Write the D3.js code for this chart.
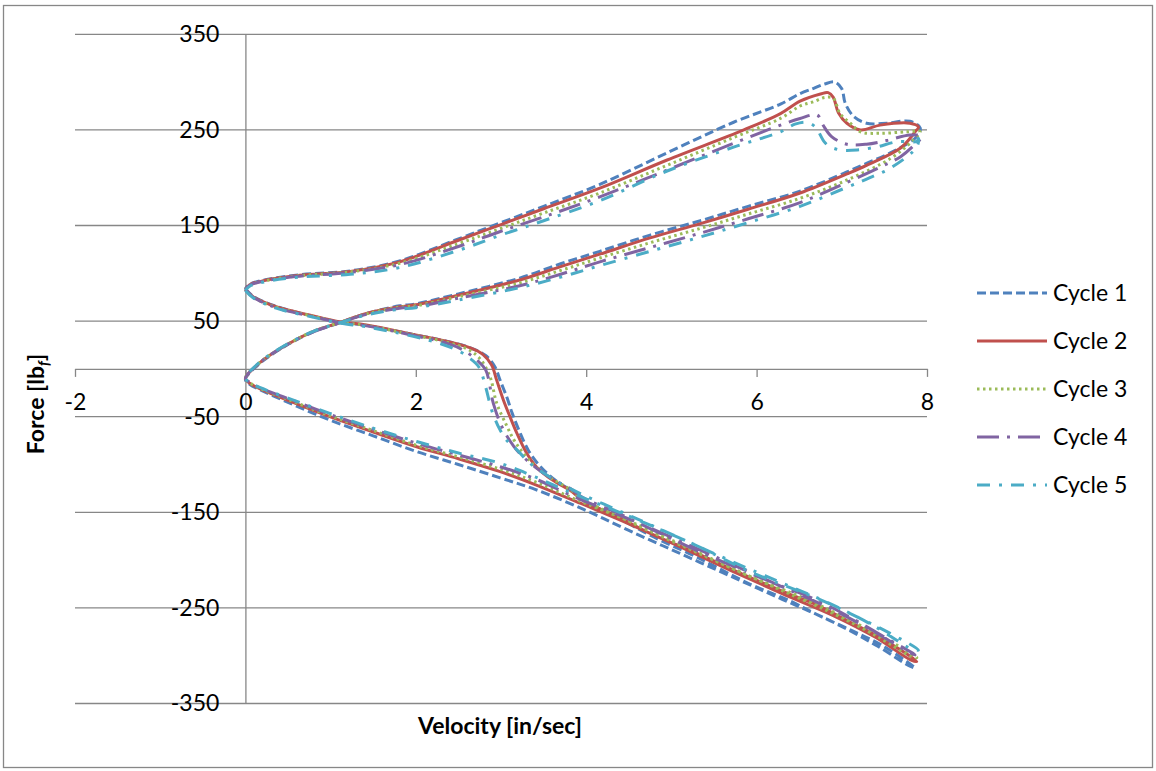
<!DOCTYPE html>
<html>
<head>
<meta charset="utf-8">
<script src="https://cdn.jsdelivr.net/npm/d3@7"></script>
<style>
  body { margin: 0; background: #fff; }
  svg { display: block; }
  text { font-family: Lato, "Open Sans", sans-serif; fill: #000; }
</style>
</head>
<body>
<div id="chart"></div>
<script>
const seriesNames = ['Cycle 1', 'Cycle 2', 'Cycle 3', 'Cycle 4', 'Cycle 5'];
const xTicks = [-2, 0, 2, 4, 6, 8];
const yTicks = [-350, -250, -150, -50, 50, 150, 250, 350];

// [velocity in/sec, force lbf], in the order the loop is traced
const cycle1 = [
  [0.00, 84], [0.09, 76], [0.36, 65.5], [0.75, 56], [1.10, 49], [1.42, 45.5], [1.97, 36], [2.36, 29],
  [2.64, 22], [2.82, 14], [2.93, 2], [2.99, -12], [3.07, -30], [3.13, -46], [3.21, -64], [3.32, -85],
  [3.45, -101], [3.63, -116], [3.84, -128], [4.00, -139], [4.40, -157], [4.75, -174], [5.30, -197],
  [5.92, -225], [6.40, -243], [6.71, -257], [7.10, -273], [7.49, -290], [7.86, -313],
  [7.80, -311], [7.40, -289], [6.90, -265], [6.30, -241], [5.70, -217], [5.10, -193], [4.50, -169],
  [3.97, -147], [3.40, -126], [2.99, -114], [2.50, -100], [2.01, -86.5], [1.50, -70], [0.99, -53.5],
  [0.50, -35], [0.20, -23], [0.05, -16], [0.00, -11],
  [0.16, 5], [0.48, 24.5], [0.79, 38.5], [1.10, 48], [1.42, 58], [1.81, 66], [2.00, 68], [2.50, 78.5],
  [3.22, 95], [3.70, 110], [4.16, 123], [4.75, 140], [5.34, 155], [5.90, 170], [6.51, 186], [7.06, 206],
  [7.29, 215], [7.57, 226], [7.88, 243], [7.92, 252],
  [7.80, 259], [7.53, 257], [7.29, 257], [7.14, 264], [7.04, 278], [7.00, 293], [6.92, 300], [6.80, 298],
  [6.67, 293.5], [6.51, 288], [6.28, 277], [5.73, 258], [4.95, 226], [4.16, 193], [3.50, 170], [3.00, 153],
  [2.50, 136], [1.81, 113], [1.23, 102.5], [0.64, 98.5], [0.25, 93.5], [0.05, 88.5], [0.00, 84]
];

const cycle2 = [
  [0.00, 83], [0.09, 75.5], [0.36, 65], [0.75, 56.4], [1.10, 49.4], [1.42, 46], [1.97, 36], [2.36, 29],
  [2.64, 22], [2.79, 15], [2.89, 4], [2.95, -12], [3.03, -33], [3.11, -51], [3.19, -68], [3.30, -88],
  [3.42, -103], [3.60, -116], [3.81, -127], [3.97, -138], [4.40, -156], [4.75, -172], [5.30, -193],
  [5.92, -218], [6.40, -236], [6.71, -247], [7.10, -265], [7.49, -283], [7.88, -306],
  [7.82, -305], [7.40, -281], [6.90, -258], [6.30, -235], [5.70, -211], [5.10, -186], [4.50, -162],
  [3.89, -139], [3.40, -121], [2.99, -107.5], [2.50, -94], [2.01, -81.4], [1.50, -66], [0.99, -50],
  [0.50, -33], [0.20, -22], [0.05, -15], [0.00, -10],
  [0.16, 5.9], [0.48, 25], [0.79, 39], [1.10, 48.3], [1.42, 58], [1.81, 65], [2.00, 67], [2.50, 77],
  [3.22, 93], [3.70, 107], [4.16, 120], [4.75, 137], [5.34, 152], [5.90, 167], [6.51, 184], [7.06, 204],
  [7.29, 213], [7.69, 231], [7.86, 248], [7.90, 253],
  [7.80, 257], [7.45, 255], [7.22, 250], [7.06, 257], [6.96, 268], [6.90, 284], [6.84, 289], [6.75, 287.6],
  [6.51, 280], [6.28, 267], [5.85, 250], [4.95, 218.5], [4.16, 189], [3.50, 167.5], [3.00, 151],
  [2.50, 134.6], [1.81, 112], [1.23, 102], [0.64, 98], [0.25, 93], [0.05, 88], [0.00, 83]
];

const cycle3 = [
  [0.00, 83], [0.09, 75], [0.36, 64.5], [0.75, 56], [1.10, 49], [1.42, 45.5], [1.97, 35.5], [2.36, 28],
  [2.60, 21], [2.75, 11], [2.87, -8], [2.95, -36], [3.07, -60], [3.15, -74], [3.26, -88], [3.40, -102],
  [3.58, -114], [3.81, -126], [3.97, -137], [4.40, -155], [4.75, -170], [5.30, -192], [5.92, -217],
  [6.40, -234], [6.71, -246], [7.10, -263], [7.49, -281], [7.88, -302],
  [7.82, -301], [7.40, -279], [6.90, -256], [6.30, -232], [5.70, -208], [5.10, -183], [4.50, -159],
  [3.89, -137], [3.40, -118], [2.99, -105], [2.50, -92], [2.01, -80], [1.50, -64.5], [0.99, -49],
  [0.50, -32], [0.20, -21.5], [0.05, -14.5], [0.00, -10],
  [0.16, 6], [0.48, 25], [0.79, 39], [1.10, 48.3], [1.42, 57.5], [1.81, 64.5], [2.00, 66], [2.50, 75.5],
  [3.22, 90], [3.70, 103], [4.16, 116], [4.75, 132], [5.34, 147], [5.90, 162], [6.51, 178.5], [7.06, 197.6],
  [7.57, 220], [7.84, 239.4], [7.92, 248],
  [7.76, 248], [7.45, 246.4], [7.22, 248], [7.10, 257], [6.98, 267], [6.90, 283], [6.80, 284], [6.67, 279.5],
  [6.51, 275], [6.28, 262], [5.73, 242], [4.95, 213], [4.16, 184], [3.50, 163], [3.00, 147], [2.50, 131],
  [1.81, 110.5], [1.23, 101.5], [0.64, 97.5], [0.25, 92.5], [0.05, 87.5], [0.00, 83]
];

const cycle4 = [
  [0.00, 83], [0.09, 75], [0.36, 64], [0.75, 55.5], [1.10, 48.5], [1.42, 45], [1.97, 35], [2.36, 27],
  [2.55, 20], [2.72, 9], [2.82, -1], [2.91, -36], [3.01, -60.5], [3.15, -81], [3.26, -92], [3.42, -104],
  [3.60, -115], [3.81, -125], [3.97, -135], [4.40, -152], [4.75, -167], [5.30, -190], [6.12, -221],
  [6.71, -242], [7.10, -260], [7.49, -280], [7.86, -299],
  [7.80, -297], [7.40, -276], [6.90, -252], [6.30, -228], [5.70, -204], [5.10, -180], [4.50, -157],
  [3.89, -135], [3.40, -115], [2.99, -102.3], [2.50, -90], [2.01, -77.8], [1.50, -63], [0.99, -47.5],
  [0.50, -31], [0.20, -21], [0.05, -14], [0.00, -10],
  [0.16, 6], [0.48, 25], [0.79, 38.5], [1.10, 48], [1.42, 57], [1.81, 63.5], [2.00, 65], [2.50, 74],
  [3.22, 87], [3.70, 99], [4.16, 112], [4.75, 127], [5.34, 142], [5.90, 157], [6.51, 174], [7.06, 195],
  [7.45, 211], [7.69, 222], [7.86, 235], [7.94, 243],
  [7.80, 244.7], [7.53, 239], [7.29, 235], [7.06, 235], [6.88, 243], [6.78, 255], [6.71, 265.6],
  [6.51, 262], [6.28, 255], [5.73, 236], [4.95, 208], [4.16, 180], [3.50, 159], [3.00, 144], [2.50, 128],
  [1.81, 109], [1.23, 101], [0.64, 97], [0.25, 92.5], [0.05, 87.5], [0.00, 83]
];

const cycle5 = [
  [0.00, 82], [0.09, 74.5], [0.36, 63.5], [0.75, 55], [1.10, 48], [1.42, 44], [1.97, 34], [2.30, 26],
  [2.52, 18], [2.62, 12], [2.74, 2], [2.82, -19], [2.89, -43], [2.99, -64], [3.08, -76], [3.19, -85],
  [3.34, -98.7], [3.50, -109], [3.70, -120], [3.97, -132], [4.40, -149], [4.75, -163], [5.30, -185],
  [5.92, -212], [6.71, -240], [7.10, -256], [7.49, -273], [7.90, -294],
  [7.82, -293], [7.40, -270], [6.90, -247], [6.30, -224], [5.70, -201], [5.10, -177], [4.50, -154],
  [3.89, -132], [3.40, -113], [2.99, -98.7], [2.50, -88], [2.01, -76], [1.50, -62], [0.99, -46.5],
  [0.50, -30.5], [0.20, -20.5], [0.05, -14], [0.00, -10],
  [0.16, 6.5], [0.48, 25.5], [0.79, 39], [1.10, 48], [1.42, 56.5], [1.81, 62.5], [2.00, 64], [2.50, 72],
  [3.22, 85], [3.70, 96], [4.16, 108], [4.75, 123], [5.34, 138], [5.90, 153], [6.51, 170], [7.06, 190],
  [7.33, 200], [7.57, 210], [7.88, 232], [7.90, 241],
  [7.88, 238], [7.65, 237.6], [7.40, 232], [7.18, 229], [6.98, 229], [6.85, 233], [6.79, 238], [6.69, 253],
  [6.59, 258], [6.45, 256], [6.28, 248], [5.73, 232], [4.95, 207], [4.16, 176], [3.50, 155], [3.00, 140],
  [2.50, 124], [1.81, 106], [1.23, 99], [0.64, 96], [0.25, 91.5], [0.05, 86.5], [0.00, 82]
];

const cycles = [cycle1, cycle2, cycle3, cycle4, cycle5];

// styles
const colors = ['#4F81BD', '#C0504D', '#9BBB59', '#8064A2', '#4BACC6'];
const dashes = ['9,4', null, '2.5,3.5', '22,8,3,8', '13,9,3,9'];
const gridColor = '#878787';

const width = 1156, height = 771;

const x = d3.scaleLinear().domain([-2, 8]).range([75, 927]);
const y = d3.scaleLinear().domain([-350, 350]).range([703.5, 34.3]);

const svg = d3.select('#chart')
  .append('svg')
  .attr('width', width)
  .attr('height', height);

svg.append('rect')
  .attr('x', 3.5).attr('y', 5.5)
  .attr('width', 1149).attr('height', 762)
  .attr('fill', '#fff')
  .attr('stroke', gridColor)
  .attr('stroke-width', 1.3);

// horizontal gridlines
svg.append('g')
  .selectAll('line')
  .data(yTicks)
  .join('line')
  .attr('x1', x(-2)).attr('x2', x(8))
  .attr('y1', (d) => y(d)).attr('y2', (d) => y(d))
  .attr('stroke', gridColor)
  .attr('stroke-width', 1.3);

// y axis through x = 0
const yAxis = svg.append('g')
  .attr('transform', `translate(${x(0)},0)`)
  .call(d3.axisLeft(y).tickValues(yTicks).tickSize(0).tickPadding(26).tickFormat((d) => String(d)));
yAxis.select('.domain').attr('stroke', gridColor).attr('stroke-width', 1.3);
yAxis.selectAll('text').attr('font-size', 23).attr('font-family', 'Lato');

// x axis through y = 0
const xAxis = svg.append('g')
  .attr('transform', `translate(0,${y(0)})`)
  .call(d3.axisBottom(x).tickValues(xTicks).tickSize(8).tickSizeOuter(0).tickPadding(17)
    .tickFormat((d) => String(d)));
xAxis.select('.domain').attr('stroke', gridColor).attr('stroke-width', 1.3);
xAxis.selectAll('.tick line').attr('stroke', gridColor).attr('stroke-width', 1.3);
xAxis.selectAll('text').attr('font-size', 23).attr('font-family', 'Lato');

// axis titles
svg.append('text')
  .attr('x', 500).attr('y', 734)
  .attr('text-anchor', 'middle')
  .attr('font-size', 23)
  .attr('font-weight', 'bold')
  .text('Velocity [in/sec]');

const yTitle = svg.append('text')
  .attr('transform', 'translate(44,404) rotate(-90)')
  .attr('text-anchor', 'middle')
  .attr('font-size', 23)
  .attr('font-weight', 'bold');
yTitle.append('tspan').text('Force [lb');
yTitle.append('tspan').attr('font-size', 15).attr('font-style', 'italic').attr('dy', 5).text('f');
yTitle.append('tspan').attr('dy', -5).text(']');

// series
const valueline = d3.line()
  .x((d) => x(d[0]))
  .y((d) => y(d[1]))
  .curve(d3.curveCatmullRom.alpha(0.5));

svg.append('g')
  .selectAll('path')
  .data(cycles)
  .join('path')
  .attr('d', valueline)
  .attr('fill', 'none')
  .attr('stroke', (d, i) => colors[i])
  .attr('stroke-width', 3)
  .attr('stroke-linejoin', 'round')
  .attr('stroke-dasharray', (d, i) => dashes[i]);

// legend
const legend = svg.append('g')
  .selectAll('g')
  .data(seriesNames)
  .join('g')
  .attr('transform', (d, i) => `translate(977,${293 + i * 48})`);

legend.append('line')
  .attr('x1', 0).attr('x2', 70)
  .attr('stroke', (d, i) => colors[i])
  .attr('stroke-width', 3)
  .attr('stroke-dasharray', (d, i) => dashes[i]);

legend.append('text')
  .attr('x', 76)
  .attr('dy', '0.35em')
  .attr('font-size', 23)
  .text((d) => d);
</script>
</body>
</html>
